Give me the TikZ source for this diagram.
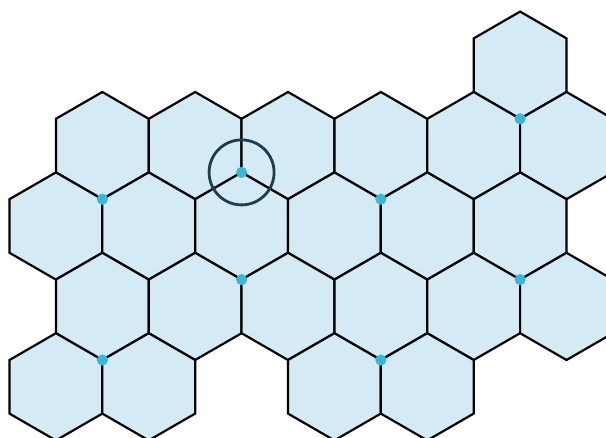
\documentclass[tikz,border=0pt]{standalone}
\usepackage{tikz}
\usetikzlibrary{calc}

\definecolor{cellblue}{HTML}{D4EAF4}
\definecolor{siteblue}{HTML}{3AB7D9}
\definecolor{ringblue}{HTML}{1E3D4C}

\begin{document}
\begin{tikzpicture}[x=1pt, y=-1pt,
    cell/.style={draw=black, line width=2.2pt, fill=cellblue, line join=miter},
    site/.style={fill=siteblue},
    ring/.style={draw=ringblue, line width=2.8pt}]
  % frame of the picture
  \useasboundingbox (0,0) rectangle (606,438);
  \clip (0,0) rectangle (606,438);

  % hexagonal cells: row/half-column
  \foreach \r/\c in {0/10,
                     1/1, 1/3, 1/5, 1/7, 1/9, 1/11,
                     2/0, 2/2, 2/4, 2/6, 2/8, 2/10,
                     3/1, 3/3, 3/5, 3/7, 3/9, 3/11,
                     4/0, 4/2, 4/6, 4/8} {
    \coordinate (h-\r-\c) at ({55.9+46.42*\c},{65.2+80.4*\r});
    \draw[cell] (h-\r-\c) +(90:53.6) -- +(30:53.6) -- +(-30:53.6)
      -- +(-90:53.6) -- +(-150:53.6) -- +(150:53.6) -- cycle;
  }

  % marked vertices (bottom corners of cells)
  \foreach \r/\c in {0/10, 1/1, 1/7, 2/4, 2/10, 3/1, 3/7} {
    \coordinate (v-\r-\c) at ($(h-\r-\c)+(0,53.6)$);
    \fill[site] (v-\r-\c) circle (5.6pt);
  }

  % highlighted vertex with ring (top corner of cell 2/4)
  \coordinate (top) at ($(h-2-4)+(0,-53.6)$);
  \fill[site] (top) circle (5.6pt);
  \draw[ring] (top) circle (32.5pt);
\end{tikzpicture}
\end{document}
